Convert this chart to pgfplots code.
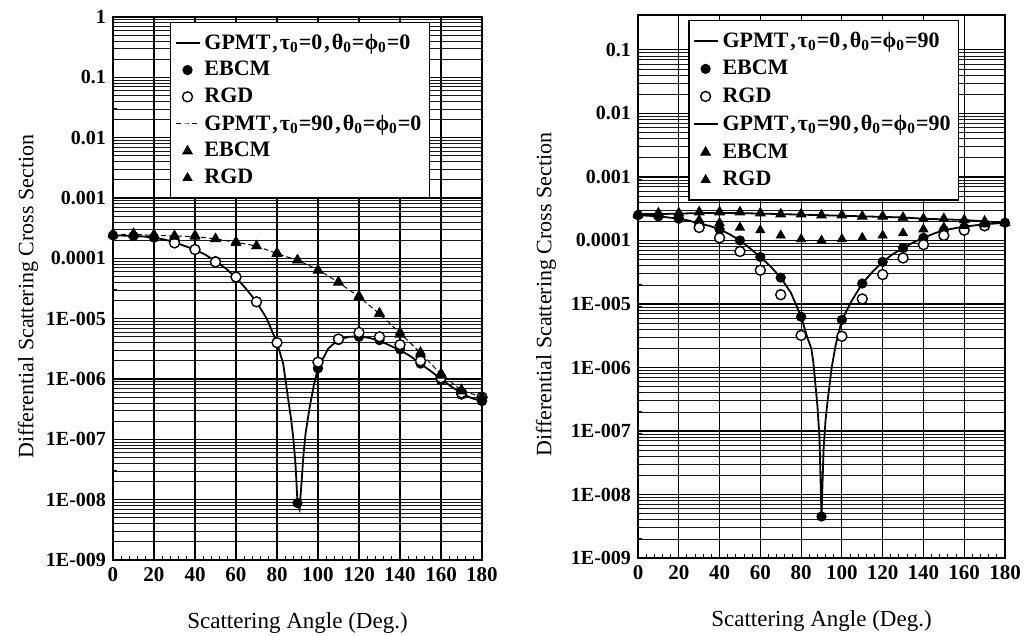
\documentclass[border=0pt]{standalone}
\usepackage{fontspec}
\setmainfont{Liberation Serif}
\usepackage{pgfplots}
\pgfplotsset{compat=1.18}
\newcommand{\sub}[1]{\textsubscript{#1}}
\pgfplotsset{
  legend image code/.code={\draw[mark repeat=2,mark phase=2,#1] plot coordinates {(0pt,0pt) (6pt,0pt) (12pt,0pt)};},
  panelstyle/.style={
    scale only axis, xmin=0, xmax=180, ymin=1e-9,
    xtick={0,20,...,180},
    xticklabels={0,20,40,60,80,100,120,140,160,180},
    minor x tick num=4,
    xmajorgrids, ymajorgrids, yminorgrids,
    major grid style={black, line width=0.55pt},
    minor grid style={black!90, line width=0.35pt},
    axis line style={line width=1pt},
    tick style={black, line width=0.5pt},
    tick pos=left, tick align=inside,
    major tick length=3pt, minor tick length=2.2pt,
    xticklabel style={font=\fontsize{10.5}{12}\selectfont\bfseries},
    yticklabel style={font=\fontsize{10}{11}\selectfont\bfseries},
    xlabel={Scattering Angle (Deg.)},
    ylabel={Differential Scattering Cross Section},
    every axis x label/.style={at={(axis description cs:0.5,0)}, anchor=center, yshift=-31.5pt, font=\fontsize{11.5}{13}\selectfont},
    legend cell align=left,
    legend style={draw=black, line width=0.8pt, fill=white,
      font=\fontsize{11}{13}\selectfont\bfseries,
      inner xsep=2pt, inner ysep=3.5pt, anchor=north west, row sep=0.6pt},
  },
  gpmt/.style={black, line width=0.9pt, mark=none, solid},
  gpmtb/.style={black, line width=0.5pt, mark=none, dash pattern=on 2.5pt off 1.5pt},
  ebcm/.style={only marks, mark=*, mark size=2.3pt, mark options={solid, fill=black, draw=black, line width=0.5pt}},
  rgd/.style={only marks, mark=*, mark size=2.5pt, mark options={solid, fill=white, draw=black, line width=0.7pt}},
  tria/.style={only marks, mark=triangle*, mark size=2.8pt, mark options={solid, fill=black, draw=black, line width=0.4pt}},
  trib/.style={only marks, mark=triangle*, mark size=2.6pt, mark options={solid, fill=black, draw=black, line width=0.4pt}},
}
\begin{document}
\begin{tikzpicture}
\useasboundingbox (0,0) rectangle (512pt,318pt);
% ---------------- left panel ----------------
\begin{axis}[ymode=log, panelstyle, at={(56.5pt,38pt)}, anchor=south west,
  width=184.5pt, height=271.5pt, ymax=1,
  ytick={1e-9,1e-8,1e-7,1e-6,1e-5,1e-4,1e-3,1e-2,1e-1,1},
  yticklabels={1E-009,1E-008,1E-007,1E-006,1E-005,0.0001,0.001,0.01,0.1,1},
  every axis y label/.style={at={(axis description cs:-0.2304,0.485)}, rotate=90, anchor=center, font=\fontsize{11}{13}\selectfont},
  legend style={at={(rel axis cs:0.154,0.991)}}]
\addplot[gpmt] coordinates {
(0,2.4e-4)(5,2.38e-4)(10,2.35e-4)(15,2.3e-4)(20,2.2e-4)(25,2.05e-4)(30,1.85e-4)
(35,1.6e-4)(40,1.4e-4)(45,1.15e-4)(50,9.0e-5)(55,6.8e-5)(60,4.8e-5)(65,3.1e-5)
(70,1.9e-5)(75,1.0e-5)(80,4.0e-6)(83,1.8e-6)(85,6e-7)(87,2e-7)(88,1e-7)(89,4e-8)
(90,9e-9)(91,7e-9)(92,2e-8)(93,6e-8)(94,1.3e-7)(96,3.5e-7)(98,8e-7)(100,1.5e-6)
(105,3.2e-6)(110,4.5e-6)(115,5.0e-6)(120,5.1e-6)(125,4.8e-6)(130,4.3e-6)(135,3.6e-6)
(140,3.0e-6)(145,2.4e-6)(150,1.8e-6)(155,1.35e-6)(160,1.0e-6)(165,7.5e-7)(170,5.8e-7)
(175,4.8e-7)(180,4.3e-7)};
\addplot[ebcm] coordinates {
(0,2.4e-4)(10,2.35e-4)(20,2.2e-4)(30,1.85e-4)(40,1.4e-4)(50,9e-5)(60,4.8e-5)
(70,1.9e-5)(80,4e-6)(90,8.8e-9)(100,1.5e-6)(110,4.4e-6)(120,5.0e-6)(130,4.4e-6)
(140,3.1e-6)(150,1.8e-6)(160,9.5e-7)(170,5.5e-7)(180,4.3e-7)};
\addplot[rgd] coordinates {
(30,1.8e-4)(40,1.4e-4)(50,8.7e-5)(60,4.9e-5)(70,1.9e-5)(80,4.0e-6)
(100,1.9e-6)(110,4.6e-6)(120,5.9e-6)(130,5.0e-6)(140,3.7e-6)(150,2.0e-6)
(160,1.05e-6)(170,5.9e-7)(180,5.0e-7)};
\addplot[gpmtb] coordinates {
(0,2.5e-4)(10,2.5e-4)(20,2.4e-4)(30,2.35e-4)(40,2.3e-4)(50,2.1e-4)(60,1.85e-4)
(70,1.6e-4)(80,1.2e-4)(90,9.3e-5)(100,6.5e-5)(110,4.0e-5)(120,2.3e-5)(130,1.2e-5)
(140,5.8e-6)(150,2.7e-6)(160,1.2e-6)(170,6.5e-7)(180,5.0e-7)};
\addplot[tria] coordinates {
(0,2.5e-4)(10,2.5e-4)(20,2.4e-4)(30,2.3e-4)(40,2.4e-4)(50,2.1e-4)(60,1.8e-4)
(70,1.6e-4)(80,1.2e-4)(90,9.3e-5)(100,6.3e-5)(110,4.0e-5)(120,2.3e-5)(130,1.2e-5)
(140,5.5e-6)(150,2.6e-6)(160,1.15e-6)(170,6.3e-7)(180,4.8e-7)};
\addplot[trib] coordinates {
(0,2.6e-4)(10,2.6e-4)(20,2.5e-4)(30,2.4e-4)(40,2.3e-4)(50,2.1e-4)(60,1.9e-4)
(70,1.6e-4)(80,1.25e-4)(90,9.5e-5)(100,6.5e-5)(110,4.1e-5)(120,2.4e-5)(130,1.25e-5)
(140,6.0e-6)(150,2.8e-6)(160,1.25e-6)(170,6.7e-7)(180,5.2e-7)};
\legend{{GPMT\kern1pt,\kern1ptτ\sub{0}=0\kern1pt,\kern1ptθ\sub{0}=ϕ\sub{0}=0}, EBCM, RGD,
  {GPMT\kern1pt,\kern1ptτ\sub{0}=90\kern1pt,\kern1ptθ\sub{0}=ϕ\sub{0}=0}, EBCM, RGD}
\end{axis}
% ---------------- right panel ----------------
\begin{axis}[ymode=log, panelstyle, at={(319pt,39pt)}, anchor=south west,
  width=183.5pt, height=271.5pt, ymax=0.355,
  ytick={1e-9,1e-8,1e-7,1e-6,1e-5,1e-4,1e-3,1e-2,1e-1},
  yticklabels={1E-009,1E-008,1E-007,1E-006,1E-005,0.0001,0.001,0.01,0.1},
  every axis y label/.style={at={(axis description cs:-0.2507,0.485)}, rotate=90, anchor=center, font=\fontsize{11}{13}\selectfont},
  legend style={at={(rel axis cs:0.136,0.991)}, row sep=1pt}]
\addplot[gpmt] coordinates {
(0,2.5e-4)(5,2.45e-4)(10,2.4e-4)(15,2.3e-4)(20,2.2e-4)(25,2.05e-4)(30,1.85e-4)
(35,1.7e-4)(40,1.5e-4)(45,1.25e-4)(50,1.0e-4)(55,7.5e-5)(60,5.5e-5)(65,3.9e-5)
(70,2.6e-5)(75,1.5e-5)(80,6.3e-6)(83,3e-6)(85,2e-6)(86,1.2e-6)(88,2.5e-7)(89,8e-8)
(90,4.5e-9)(91,5e-8)(92,1.5e-7)(93,3e-7)(95,1e-6)(97,2.3e-6)(100,5.6e-6)(105,1.15e-5)
(110,2.1e-5)(115,3.2e-5)(120,4.6e-5)(125,6.1e-5)(130,7.6e-5)(135,9.3e-5)(140,1.1e-4)
(145,1.28e-4)(150,1.45e-4)(155,1.55e-4)(160,1.65e-4)(170,1.8e-4)(180,1.9e-4)};
\addplot[ebcm] coordinates {
(0,2.5e-4)(10,2.4e-4)(20,2.2e-4)(30,1.85e-4)(40,1.5e-4)(50,1.0e-4)(60,5.5e-5)
(70,2.6e-5)(80,6.3e-6)(90,4.5e-9)(100,5.6e-6)(110,2.1e-5)(120,4.6e-5)(130,7.6e-5)
(140,1.1e-4)(150,1.45e-4)(160,1.6e-4)(170,1.8e-4)(180,1.9e-4)};
\addplot[rgd] coordinates {
(30,1.6e-4)(40,1.1e-4)(50,6.7e-5)(60,3.4e-5)(70,1.4e-5)(80,3.2e-6)
(100,3.1e-6)(110,1.2e-5)(120,2.9e-5)(130,5.3e-5)(140,8.6e-5)(150,1.2e-4)
(160,1.45e-4)(170,1.7e-4)};
\addplot[gpmt] coordinates {
(0,2.6e-4)(10,2.6e-4)(20,2.65e-4)(30,2.7e-4)(40,2.7e-4)(50,2.7e-4)(60,2.65e-4)
(70,2.6e-4)(80,2.55e-4)(90,2.5e-4)(100,2.45e-4)(110,2.4e-4)(120,2.35e-4)(130,2.3e-4)
(140,2.2e-4)(150,2.15e-4)(160,2.1e-4)(170,2.0e-4)(180,1.9e-4)};
\addplot[tria] coordinates {
(0,2.6e-4)(10,2.7e-4)(20,2.7e-4)(30,2.8e-4)(40,2.8e-4)(50,2.8e-4)(60,2.7e-4)
(70,2.6e-4)(80,2.6e-4)(90,2.5e-4)(100,2.5e-4)(110,2.4e-4)(120,2.4e-4)(130,2.3e-4)
(140,2.2e-4)(150,2.2e-4)(160,2.1e-4)(170,2.0e-4)(180,1.9e-4)};
\addplot[trib] coordinates {
(0,2.5e-4)(10,2.5e-4)(20,2.5e-4)(30,2.1e-4)(40,1.9e-4)(50,1.6e-4)(60,1.45e-4)
(70,1.2e-4)(80,1.05e-4)(90,1.0e-4)(100,1.05e-4)(110,1.1e-4)(120,1.2e-4)(130,1.3e-4)
(140,1.5e-4)(150,1.6e-4)(160,1.7e-4)(170,1.8e-4)(180,1.9e-4)};
\legend{{GPMT\kern1pt,\kern1ptτ\sub{0}=0\kern1pt,\kern1ptθ\sub{0}=ϕ\sub{0}=90}, EBCM, RGD,
  {GPMT\kern1pt,\kern1ptτ\sub{0}=90\kern1pt,\kern1ptθ\sub{0}=ϕ\sub{0}=90}, EBCM, RGD}
\end{axis}
\end{tikzpicture}
\end{document}
